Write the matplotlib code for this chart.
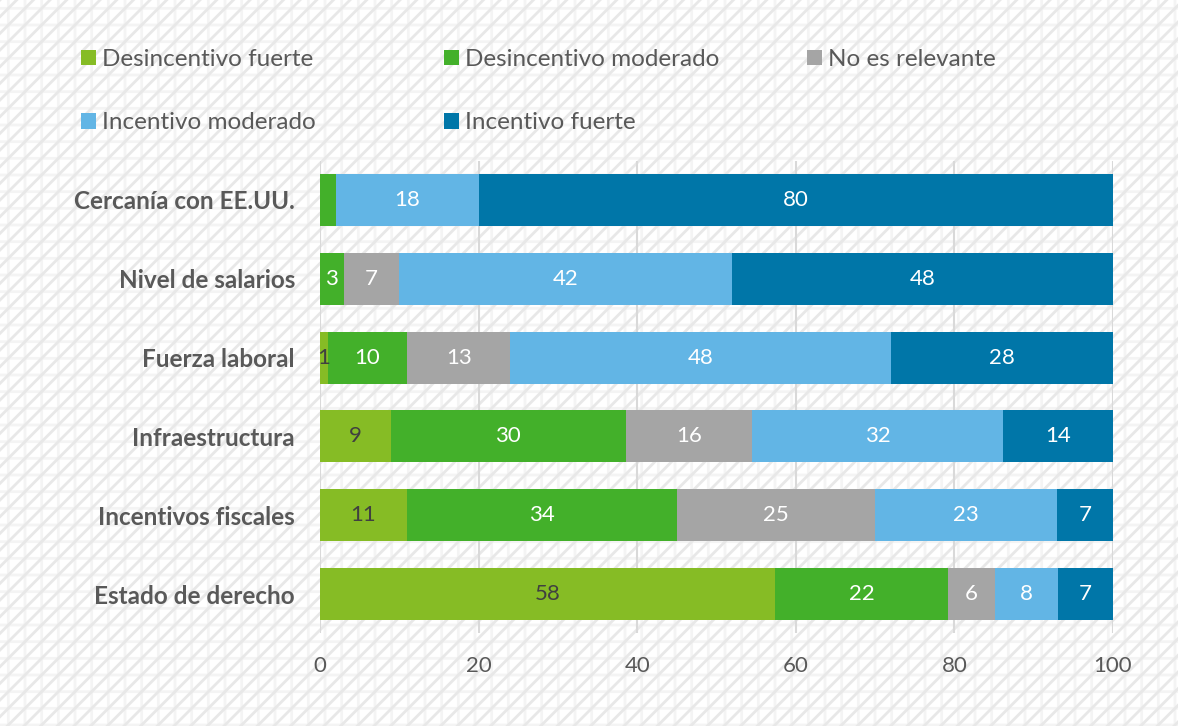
import matplotlib.pyplot as plt
import matplotlib.patches as mpatches
import numpy as np

plt.rcParams['font.family'] = ['Lato', 'DejaVu Sans']
plt.rcParams['hatch.linewidth'] = 2.0

factores = ['Cercanía con EE.UU.', 'Nivel de salarios', 'Fuerza laboral',
            'Infraestructura', 'Incentivos fiscales', 'Estado de derecho']
series = ['Desincentivo fuerte', 'Desincentivo moderado', 'No es relevante',
          'Incentivo moderado', 'Incentivo fuerte']
colores = ['#86bc25', '#43b02a', '#a5a5a5', '#62b5e5', '#0076a8']
color_texto = ['#404040', 'white', 'white', 'white', 'white']

desinc_fuerte = [0, 0, 1, 9, 11, 58]
desinc_moderado = [2, 3, 10, 30, 34, 22]
no_relevante = [0, 7, 13, 16, 25, 6]
inc_moderado = [18, 42, 48, 32, 23, 8]
inc_fuerte = [80, 48, 28, 14, 7, 7]
# (fila, serie) sin etiqueta de dato
sin_etiqueta = {(0, 1)}

datos = np.array([desinc_fuerte, desinc_moderado, no_relevante,
                  inc_moderado, inc_fuerte], dtype=float)
# barras apiladas al 100%
porcentaje = datos / datos.sum(axis=0) * 100

fig = plt.figure(figsize=(11.78, 7.26), dpi=100)
# fondo con trama diagonal
fig.patches.append(mpatches.Rectangle((0, 0), 1, 1, transform=fig.transFigure,
                                      facecolor='white', edgecolor='#f4f4f4',
                                      hatch='+', linewidth=0, zorder=-11))
fig.patches.append(mpatches.Rectangle((0, 0), 1, 1, transform=fig.transFigure,
                                      facecolor='none', edgecolor='#e8e8e8',
                                      hatch='//', linewidth=0, zorder=-10))

ax = fig.add_axes([0.2716, 0.1275, 0.6732, 0.6513])
ax.set_facecolor('none')
y = np.arange(len(factores))
izq = np.zeros(len(factores))
handles = []
for j, nombre in enumerate(series):
    bars = ax.barh(y, porcentaje[j], left=izq, height=0.66,
                   color=colores[j], label=nombre, zorder=3)
    handles.append(bars)
    for i, b in enumerate(bars):
        v = datos[j, i]
        if v == 0 or (i, j) in sin_etiqueta:
            continue
        ax.text(izq[i] + porcentaje[j, i] / 2, y[i], '%d' % v,
                ha='center', va='center', fontsize=16,
                color=color_texto[j], zorder=4)
    izq += porcentaje[j]

ax.set_xlim(0, 100)
ax.set_ylim(len(factores) - 0.5, -0.5)
ax.set_xticks(np.arange(0, 101, 20))
ax.set_yticks(y)
ax.set_yticklabels(factores, fontweight='bold', fontsize=17.5, color='#595959')
ax.tick_params(axis='x', labelsize=16, labelcolor='#595959', length=0, pad=16)
ax.tick_params(axis='y', length=0, pad=18)
ax.grid(axis='x', color='#d9d9d9', linewidth=1.5, zorder=0)
ax.grid(axis='y', visible=False)
for s in ax.spines.values():
    s.set_visible(False)

# leyenda en dos filas, posiciones fijas por entrada
pos_leyenda = [(0.069, 0.918), (0.377, 0.918), (0.685, 0.918),
               (0.069, 0.831), (0.377, 0.831)]
for h, (lx, ly) in zip(handles, pos_leyenda):
    leg = fig.legend([h], [h.get_label()], loc='center left',
                     bbox_to_anchor=(lx, ly), frameon=False, fontsize=17.5,
                     handlelength=0.62, handleheight=0.62, handletextpad=0.25,
                     borderpad=0, borderaxespad=0)
    for t in leg.get_texts():
        t.set_color('#595959')

plt.savefig('out.png', dpi=100)
